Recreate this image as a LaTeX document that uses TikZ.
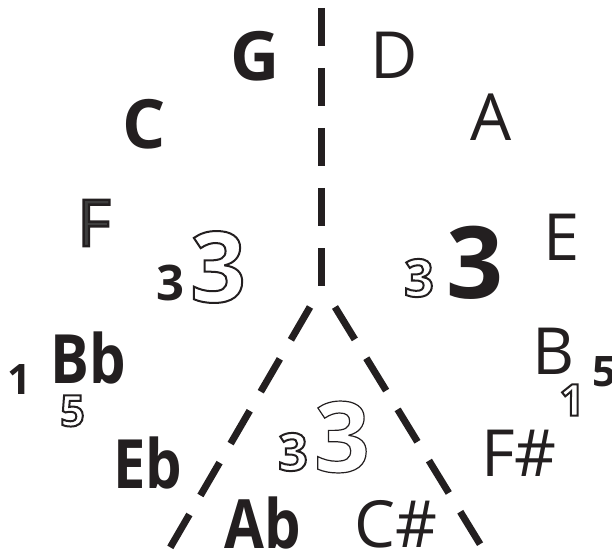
\documentclass[tikz,border=0pt]{standalone}
\usepackage{fontspec}
\setmainfont{Open Sans}
\definecolor{ink}{RGB}{35,31,32}
\definecolor{fgray}{RGB}{62,62,62}
\newcommand\outl[2]{\special{pdf:literal direct 1 Tr #1 w}#2\special{pdf:literal direct 0 Tr}}
\newcommand\fstroke[2]{\special{pdf:literal direct 0.137 0.122 0.125 RG 2 Tr #1 w}#2\special{pdf:literal direct 0 Tr}}
\newcommand\narrow[1]{\scalebox{0.85}[1]{#1}}
\tikzset{
  dashline/.style={draw=ink, line width=7pt, dash pattern=on 38pt off 22pt},
  note/.style={inner sep=0pt, text=ink, font=\fontsize{65}{70}\selectfont},
  bnote/.style={inner sep=0pt, text=ink, font=\fontsize{68}{72}\selectfont\bfseries},
  num/.style={inner sep=0pt, text=ink},
}
\begin{document}
\begin{tikzpicture}[x=1pt,y=-1pt]
\useasboundingbox (0,0) rectangle (612,553);
% dashed lines
\coordinate (vtop) at (321.7,8);
\coordinate (apex) at (321.7,288);
\coordinate (ltop) at (310,307);
\coordinate (lbot) at (167,553);
\coordinate (rtop) at (335,307);
\coordinate (rbot) at (485.5,553);
\draw[dashline] (vtop) -- (apex);
\draw[dashline] (ltop) -- (lbot);
\draw[dashline] (rtop) -- (rbot);
% note names
\node[bnote] (G) at (255,56) {G};
\node[note] (D) at (394,55) {D};
\node[note] (A) at (491,117) {A};
\node[bnote] (C) at (144,124) {C};
\node[note] (F) at (94,223) {\color{fgray}\fstroke{2.4}{F}};
\node[note] (E) at (562,237) {E};
\node[bnote] (Bb) at (88,358) {\narrow{Bb}};
\node[note] (B) at (554,351) {B};
\node[bnote] (Eb) at (148,463) {\narrow{Eb}};
\node[note] (Fs) at (519,453) {F\#};
\node[bnote] (Ab) at (263,523) {\narrow{Ab}};
\node[note] (Cs) at (396,524) {C\#};
% numbers
\node[num, font=\fontsize{49}{52}\selectfont\bfseries] (n3a) at (170,282.5) {3};
\node[num, font=\fontsize{98}{100}\selectfont\bfseries] (n3b) at (218,267) {\outl{2}{3}};
\node[num, font=\fontsize{52}{55}\selectfont\bfseries] (n3c) at (419,278) {\outl{2}{3}};
\node[num, font=\fontsize{100}{100}\selectfont\bfseries] (n3d) at (475,263) {3};
\node[num, font=\fontsize{52}{55}\selectfont\bfseries] (n3e) at (293,452) {\outl{2}{3}};
\node[num, font=\fontsize{98}{100}\selectfont\bfseries] (n3f) at (342,437) {\outl{1.2}{3}};
\node[num, font=\fontsize{42}{45}\selectfont\bfseries] (n1a) at (19,380) {1};
\node[num, font=\fontsize{43}{45}\selectfont\bfseries] (n5a) at (72.5,411) {\outl{2}{5}};
\node[num, font=\fontsize{42}{45}\selectfont\bfseries] (n5b) at (604,372) {5};
\node[num, font=\fontsize{44}{45}\selectfont\bfseries] (n1b) at (572,400) {\outl{2}{1}};
\end{tikzpicture}
\end{document}
